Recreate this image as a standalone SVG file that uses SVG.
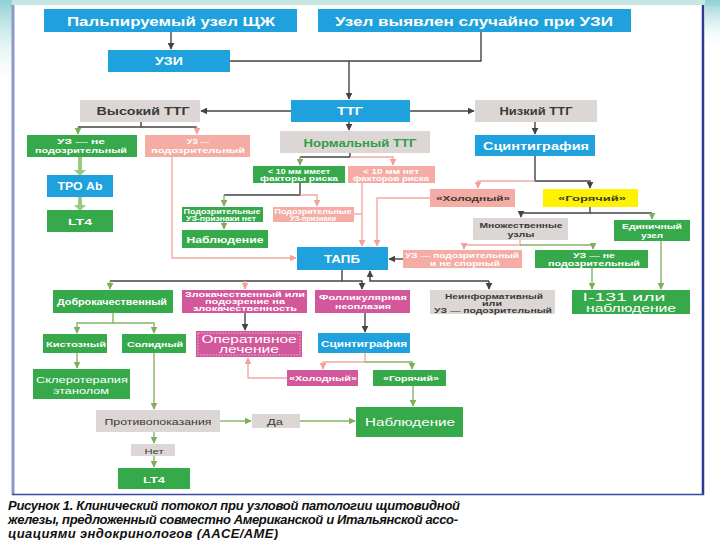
<svg xmlns="http://www.w3.org/2000/svg" width="720" height="540" viewBox="0 0 720 540">
<defs>
<linearGradient id="sw" x1="0" y1="0" x2="0" y2="1"><stop offset="0" stop-color="#8fd0d3"/><stop offset="1" stop-color="#ffffff" stop-opacity="0"/></linearGradient>
<marker id="ad" viewBox="0 0 10 10" refX="9" refY="5" markerWidth="5" markerHeight="5" orient="auto"><path d="M0,0L10,5L0,10z" fill="#444"/></marker>
<marker id="ag" viewBox="0 0 10 10" refX="9" refY="5" markerWidth="5" markerHeight="5" orient="auto"><path d="M0,0L10,5L0,10z" fill="#7fae5c"/></marker>
<marker id="ap" viewBox="0 0 10 10" refX="9" refY="5" markerWidth="5" markerHeight="5" orient="auto"><path d="M0,0L10,5L0,10z" fill="#f0a39c"/></marker>
<style>
.b{fill:#1ea1dc}.g{fill:#36a94b}.p{fill:#f4aca5}.m{fill:#d3589b}.gr{fill:#dcd7d4}.y{fill:#fff200}
.t{font-family:"Liberation Sans",Arial,sans-serif;font-weight:bold;fill:#fff;text-anchor:middle}
.d{fill:#3a3a3a}.n{font-weight:normal}
.cd{fill:none;stroke:#444;stroke-width:1.4}
.cg{fill:none;stroke:#86b465;stroke-width:1.4}
.cgw{fill:none;stroke:#9bc985;stroke-width:4}
.cp{fill:none;stroke:#f2aaa3;stroke-width:1.4}
.cap{font-family:"Liberation Sans",Arial,sans-serif;font-weight:bold;font-style:italic;font-size:13px;fill:#111}
</style>
</defs>
<rect x="0" y="0" width="720" height="540" fill="#fff"/>
<rect x="0" y="0" width="720" height="6" fill="#c6e6e4"/>
<rect x="0" y="0" width="12" height="90" fill="url(#sw)"/>
<rect x="705" y="0" width="15" height="50" fill="url(#sw)"/>
<rect x="14" y="5" width="689" height="489" fill="#fff"/>
<line x1="13" y1="5" x2="13" y2="495" stroke="#8e98c8" stroke-width="3"/>
<line x1="703" y1="5" x2="703" y2="495" stroke="#2b3a94" stroke-width="2.5"/>
<line x1="12" y1="494.5" x2="704" y2="494.5" stroke="#3a4aa0" stroke-width="1.5"/>

<g id="connectors">
<path class="cd" d="M171,32V49" marker-end="url(#ad)"/>
<path class="cd" d="M481,32V61H230"/>
<path class="cd" d="M349,61V99" marker-end="url(#ad)"/>
<path class="cd" d="M291,111H201" marker-end="url(#ad)"/>
<path class="cd" d="M410,111H474" marker-end="url(#ad)"/>
<path class="cd" d="M349,122V130" marker-end="url(#ad)"/>
<path class="cd" d="M535,122V134" marker-end="url(#ad)"/>
<path class="cd" d="M141,122V127H78"/>
<path class="cg" d="M78,127V134" marker-end="url(#ag)"/>
<path class="cd" d="M141,127H197"/>
<path class="cp" d="M197,127V134" marker-end="url(#ap)"/>
<path class="cgw" d="M80,157V172"/>
<path class="cgw" d="M80,197V207"/>
<path d="M74,170L80,176L86,170z" fill="#9bc985"/>
<path d="M74,205L80,211L86,205z" fill="#9bc985"/>
<path class="cd" d="M350,153V157H300"/>
<path class="cg" d="M300,157V165" marker-end="url(#ag)"/>
<path class="cp" d="M350,157H393V165" marker-end="url(#ap)"/>
<path class="cd" d="M300,183V195H224"/>
<path class="cg" d="M224,195V206" marker-end="url(#ag)"/>
<path class="cp" d="M300,195H317V206" marker-end="url(#ap)"/>
<path class="cg" d="M224,222V229" marker-end="url(#ag)"/>
<path class="cp" d="M172,157V258H296" marker-end="url(#ap)"/>
<path class="cp" d="M362,183V246" marker-end="url(#ap)"/>
<path class="cp" d="M354,214H362"/>
<path class="cp" d="M430,198H377V246" marker-end="url(#ap)"/>
<path class="cd" d="M535,156V181H590V188" marker-end="url(#ad)"/>
<path class="cp" d="M535,181H478V188" marker-end="url(#ap)"/>
<path class="cd" d="M590,207V213H521V217" marker-end="url(#ad)"/>
<path class="cd" d="M590,213H652"/>
<path class="cg" d="M652,213V219" marker-end="url(#ag)"/>
<path class="cp" d="M520,240V245H464V249" marker-end="url(#ap)"/>
<path class="cg" d="M520,245H593V249" marker-end="url(#ag)"/>
<path class="cd" d="M403,259H389" marker-end="url(#ad)"/>
<path class="cg" d="M592,268V289" marker-end="url(#ag)"/>
<path class="cg" d="M661,241V289" marker-end="url(#ag)"/>
<path class="cd" d="M342,270V281H110"/>
<path class="cg" d="M110,281V289" marker-end="url(#ag)"/>
<path class="cp" d="M245,281V289" marker-end="url(#ap)"/>
<path class="cd" d="M342,281H362V289" marker-end="url(#ad)"/>
<path class="cd" d="M489,281H370V271" marker-end="url(#ad)"/>
<path class="cd" d="M489,281V289" marker-end="url(#ad)"/>
<path class="cg" d="M113,313V323H77V333" marker-end="url(#ag)"/>
<path class="cg" d="M113,323H154V333" marker-end="url(#ag)"/>
<path class="cd" d="M245,313V330" marker-end="url(#ad)" stroke-width="2"/>
<path class="cd" d="M365,313V332" marker-end="url(#ad)"/>
<path class="cp" d="M365,353V362H323V369" marker-end="url(#ap)"/>
<path class="cg" d="M365,362H412V369" marker-end="url(#ag)"/>
<path class="cp" d="M287,378H248V358" marker-end="url(#ap)"/>
<path class="cg" d="M77,353V368" marker-end="url(#ag)"/>
<path class="cg" d="M154,353V409" marker-end="url(#ag)" stroke="#b3d39a"/>
<path class="cg" d="M413,386V406" marker-end="url(#ag)"/>
<path class="cg" d="M220,421H251" marker-end="url(#ag)" stroke-width="1"/>
<path class="cg" d="M300,421H355" marker-end="url(#ag)" stroke-width="1"/>
<path class="cg" d="M154,432V443" marker-end="url(#ag)"/>
<path class="cg" d="M154,456V467" marker-end="url(#ag)"/>
</g>

<g id="n1"><rect class="b" x="44" y="9" width="253" height="23"/><text class="t" x="171" y="25.5" font-size="13.5" textLength="208" lengthAdjust="spacingAndGlyphs">Пальпируемый узел ЩЖ</text></g>
<g id="n2"><rect class="b" x="318" y="9" width="313" height="23"/><text class="t" x="474" y="25.5" font-size="13.5" textLength="278" lengthAdjust="spacingAndGlyphs">Узел выявлен случайно при УЗИ</text></g>
<g id="n3"><rect class="b" x="108" y="50" width="122" height="22"/><text class="t" x="169" y="65" font-size="10" textLength="28" lengthAdjust="spacingAndGlyphs">УЗИ</text></g>
<g id="n4"><rect class="gr" x="80" y="100" width="120" height="22"/><text class="t d" x="143" y="115" font-size="10" textLength="93" lengthAdjust="spacingAndGlyphs">Высокий ТТГ</text></g>
<g id="n5"><rect class="b" x="291" y="100" width="119" height="22"/><text class="t" x="350" y="115" font-size="10" textLength="26" lengthAdjust="spacingAndGlyphs">ТТГ</text></g>
<g id="n6"><rect class="gr" x="475" y="100" width="122" height="22"/><text class="t d" x="536" y="115" font-size="10" textLength="73" lengthAdjust="spacingAndGlyphs">Низкий ТТГ</text></g>
<g id="n7"><rect class="gr" x="280" y="131" width="150" height="22"/><text class="t" x="360" y="146.5" font-size="11" style="fill:#2f9e48" textLength="113" lengthAdjust="spacingAndGlyphs">Нормальный ТТГ</text></g>
<g id="n8"><rect class="b" x="475" y="135" width="120" height="21"/><text class="t" x="536" y="150" font-size="11" textLength="106" lengthAdjust="spacingAndGlyphs">Сцинтиграфия</text></g>
<g id="n9"><rect class="g" x="27" y="135" width="110" height="22"/><text class="t" x="81" y="144" font-size="8" textLength="48" lengthAdjust="spacingAndGlyphs">УЗ — не</text><text class="t" x="81" y="153" font-size="8" textLength="92" lengthAdjust="spacingAndGlyphs">подозрительный</text></g>
<g id="n10"><rect class="p" x="145" y="135" width="105" height="22"/><text class="t" x="198" y="144" font-size="8" textLength="22" lengthAdjust="spacingAndGlyphs">УЗ —</text><text class="t" x="198" y="153" font-size="8" textLength="94" lengthAdjust="spacingAndGlyphs">подозрительный</text></g>
<g id="n11"><rect class="b" x="47" y="175" width="66" height="22"/><text class="t" x="80" y="190" font-size="10" textLength="45" lengthAdjust="spacingAndGlyphs">ТРО Ab</text></g>
<g id="n12"><rect class="g" x="47" y="210" width="66" height="22"/><text class="t" x="80" y="224.5" font-size="9" textLength="24" lengthAdjust="spacingAndGlyphs">LT4</text></g>
<g id="n13"><rect class="g" x="253" y="166" width="92" height="17"/><text class="t" x="299" y="173.5" font-size="7" textLength="62" lengthAdjust="spacingAndGlyphs">&lt; 10 мм имеет</text><text class="t" x="299" y="181" font-size="7" textLength="78" lengthAdjust="spacingAndGlyphs">факторы риска</text></g>
<g id="n14"><rect class="p" x="348" y="166" width="87" height="17"/><text class="t" x="391" y="173.5" font-size="7" textLength="56" lengthAdjust="spacingAndGlyphs">&lt; 10 мм нет</text><text class="t" x="391" y="181" font-size="7" textLength="76" lengthAdjust="spacingAndGlyphs">факторов риска</text></g>
<g id="n15"><rect class="g" x="182" y="207" width="81" height="15"/><text class="t" x="222" y="213.5" font-size="6.5" textLength="77" lengthAdjust="spacingAndGlyphs">Подозрительные</text><text class="t" x="221" y="220.5" font-size="6.5" textLength="70" lengthAdjust="spacingAndGlyphs">УЗ-признаки нет</text></g>
<g id="n16"><rect class="p" x="273" y="207" width="81" height="15"/><text class="t" x="313" y="213.5" font-size="6.5" textLength="77" lengthAdjust="spacingAndGlyphs">Подозрительные</text><text class="t" x="313" y="220.5" font-size="6.5" textLength="46" lengthAdjust="spacingAndGlyphs">УЗ-признаки</text></g>
<g id="n17"><rect class="g" x="182" y="230" width="86" height="18"/><text class="t" x="225" y="242.5" font-size="8.5" textLength="77" lengthAdjust="spacingAndGlyphs">Наблюдение</text></g>
<g id="n18"><rect class="b" x="297" y="247" width="91" height="23"/><text class="t" x="342" y="263" font-size="10.5" textLength="36" lengthAdjust="spacingAndGlyphs">ТАПБ</text></g>
<g id="n19"><rect class="p" x="430" y="189" width="85" height="18"/><text class="t d" x="473" y="201" font-size="8" textLength="74" lengthAdjust="spacingAndGlyphs">«Холодный»</text></g>
<g id="n20"><rect class="y" x="543" y="189" width="95" height="18"/><text class="t d" x="592" y="201" font-size="8" textLength="68" lengthAdjust="spacingAndGlyphs">«Горячий»</text></g>
<g id="n21"><rect class="gr" x="473" y="218" width="95" height="22"/><text class="t d" x="521" y="227.5" font-size="7.5" textLength="83" lengthAdjust="spacingAndGlyphs">Множественные</text><text class="t d" x="521" y="236.5" font-size="7.5" textLength="27" lengthAdjust="spacingAndGlyphs">узлы</text></g>
<g id="n22"><rect class="g" x="614" y="220" width="76" height="21"/><text class="t" x="652" y="229" font-size="8" textLength="60" lengthAdjust="spacingAndGlyphs">Единичный</text><text class="t" x="652" y="238" font-size="8" textLength="22" lengthAdjust="spacingAndGlyphs">узел</text></g>
<g id="n23"><rect class="p" x="403" y="250" width="119" height="18"/><text class="t" x="462" y="257.5" font-size="7" textLength="114" lengthAdjust="spacingAndGlyphs">УЗ — подозрительный</text><text class="t" x="465" y="265.5" font-size="7" textLength="70" lengthAdjust="spacingAndGlyphs">и не спорный</text></g>
<g id="n24"><rect class="g" x="535" y="250" width="113" height="18"/><text class="t" x="594" y="257.5" font-size="7" textLength="42" lengthAdjust="spacingAndGlyphs">УЗ — не</text><text class="t" x="594" y="265.5" font-size="7" textLength="92" lengthAdjust="spacingAndGlyphs">подозрительный</text></g>
<g id="n25"><rect class="g" x="572" y="290" width="118" height="24"/><text class="t n" x="624" y="301" font-size="10.5" textLength="83" lengthAdjust="spacingAndGlyphs">I-131 или</text><text class="t n" x="631" y="312" font-size="10.5" textLength="90" lengthAdjust="spacingAndGlyphs">наблюдение</text></g>
<g id="n26"><rect class="g" x="53" y="290" width="120" height="23"/><text class="t" x="112" y="305" font-size="9" textLength="110" lengthAdjust="spacingAndGlyphs">Доброкачественный</text></g>
<g id="n27"><rect class="m" x="182" y="290" width="125" height="23"/><text class="t" x="245" y="297" font-size="7" textLength="120" lengthAdjust="spacingAndGlyphs">Злокачественный или</text><text class="t" x="245" y="304" font-size="7" textLength="80" lengthAdjust="spacingAndGlyphs">подозрение на</text><text class="t" x="245" y="311" font-size="7" textLength="104" lengthAdjust="spacingAndGlyphs">злокачественность</text></g>
<g id="n28"><rect class="m" x="315" y="290" width="95" height="23"/><text class="t" x="363" y="299.5" font-size="8" textLength="88" lengthAdjust="spacingAndGlyphs">Фолликулярная</text><text class="t" x="363" y="308.5" font-size="8" textLength="56" lengthAdjust="spacingAndGlyphs">неоплазия</text></g>
<g id="n29"><rect class="gr" x="430" y="290" width="125" height="24"/><text class="t d" x="494" y="298.5" font-size="7" textLength="98" lengthAdjust="spacingAndGlyphs">Неинформативный</text><text class="t d" x="492" y="305.5" font-size="7" textLength="20" lengthAdjust="spacingAndGlyphs">или</text><text class="t d" x="493" y="312.5" font-size="7" textLength="118" lengthAdjust="spacingAndGlyphs">УЗ — подозрительный</text></g>
<g id="n30"><rect class="g" x="43" y="334" width="64" height="19"/><text class="t" x="76" y="346.5" font-size="8" textLength="60" lengthAdjust="spacingAndGlyphs">Кистозный</text></g>
<g id="n31"><rect class="g" x="122" y="334" width="64" height="19"/><text class="t" x="155" y="346.5" font-size="8" textLength="56" lengthAdjust="spacingAndGlyphs">Солидный</text></g>
<g id="n32"><rect class="m" x="196" y="331" width="106" height="26"/><rect x="198" y="333" width="102" height="22" fill="none" stroke="#fff" stroke-width="0.6" stroke-dasharray="1.5 1.5"/><text class="t n" x="249" y="343" font-size="10" textLength="95" lengthAdjust="spacingAndGlyphs">Оперативное</text><text class="t n" x="249" y="353" font-size="10" textLength="60" lengthAdjust="spacingAndGlyphs">лечение</text></g>
<g id="n33"><rect class="b" x="318" y="333" width="92" height="20"/><text class="t" x="364" y="346.5" font-size="8.5" textLength="86" lengthAdjust="spacingAndGlyphs">Сцинтиграфия</text></g>
<g id="n34"><rect class="m" x="287" y="370" width="71" height="16"/><text class="t" x="323" y="381" font-size="7.5" textLength="68" lengthAdjust="spacingAndGlyphs">«Холодный»</text></g>
<g id="n35"><rect class="g" x="373" y="370" width="73" height="16"/><text class="t" x="411" y="381" font-size="7.5" textLength="56" lengthAdjust="spacingAndGlyphs">«Горячий»</text></g>
<g id="n36"><rect class="g" x="33" y="369" width="97" height="30"/><text class="t n" x="82" y="383" font-size="9" textLength="92" lengthAdjust="spacingAndGlyphs">Склеротерапия</text><text class="t n" x="81" y="394" font-size="9" textLength="56" lengthAdjust="spacingAndGlyphs">этанолом</text></g>
<g id="n37"><rect class="gr" x="96" y="410" width="124" height="22"/><text class="t d n" x="158" y="424.5" font-size="9.5" textLength="107" lengthAdjust="spacingAndGlyphs">Противопоказания</text></g>
<g id="n38"><rect class="gr" x="252" y="414" width="48" height="14"/><text class="t d n" x="275" y="424.5" font-size="8.5" textLength="16" lengthAdjust="spacingAndGlyphs">Да</text></g>
<g id="n39"><rect class="g" x="356" y="407" width="107" height="30"/><text class="t n" x="410" y="426" font-size="10" textLength="90" lengthAdjust="spacingAndGlyphs">Наблюдение</text></g>
<g id="n40"><rect class="gr" x="131" y="444" width="44" height="12"/><text class="t d n" x="154" y="453.5" font-size="8" textLength="19" lengthAdjust="spacingAndGlyphs">Нет</text></g>
<g id="n41"><rect class="g" x="118" y="468" width="72" height="21"/><text class="t" x="154" y="482.5" font-size="9" textLength="22" lengthAdjust="spacingAndGlyphs">LT4</text></g>

<text class="cap" x="8" y="510" textLength="452">Рисунок 1. Клинический потокол при узловой патологии щитовидной</text>
<text class="cap" x="8" y="524" textLength="450">железы, предложенный совместно Американской и Итальянской ассо-</text>
<text class="cap" x="8" y="538" textLength="270">циациями эндокринологов (AACE/AME)</text>
</svg>
